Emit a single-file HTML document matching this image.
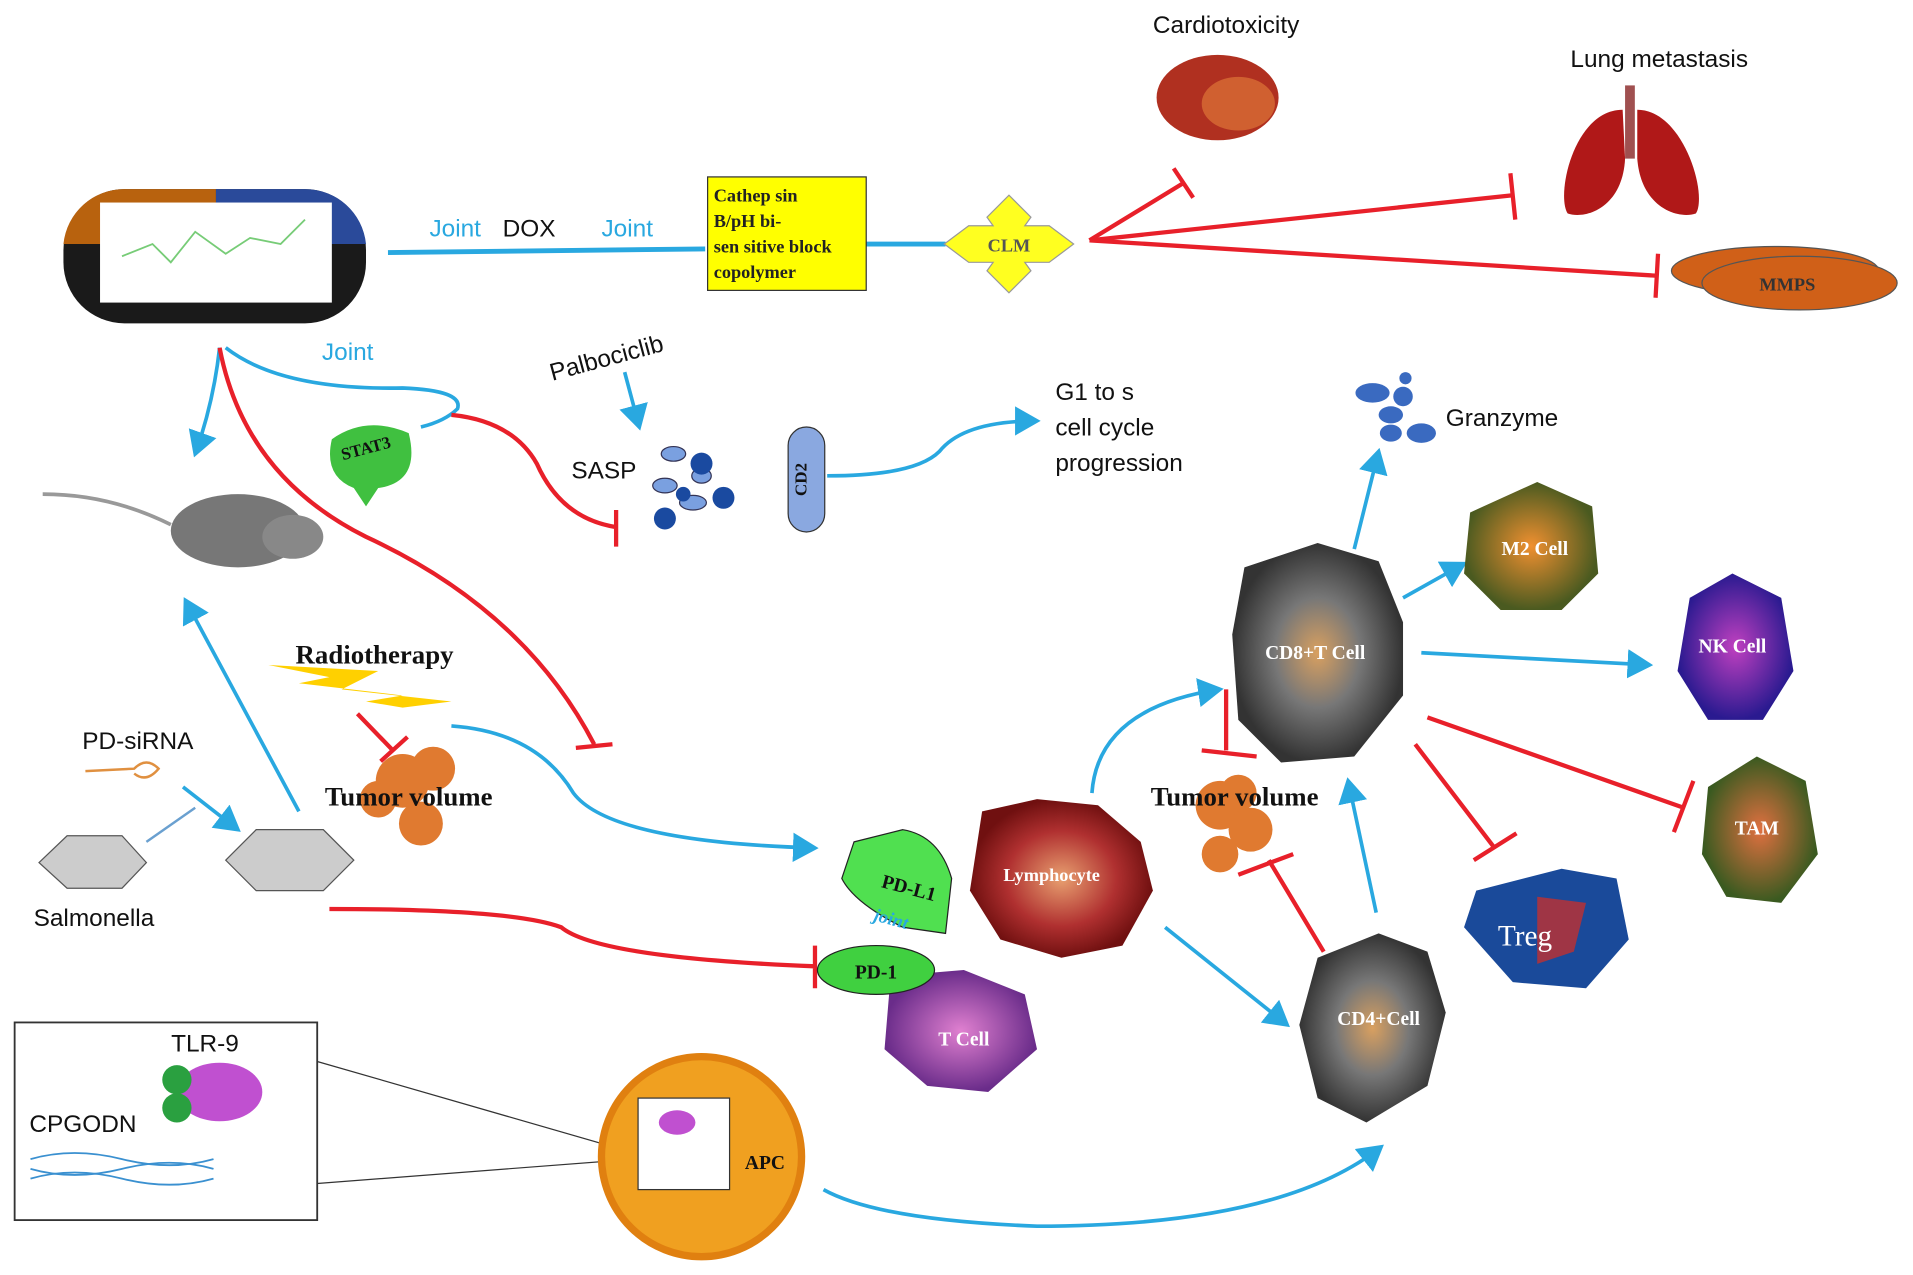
<!DOCTYPE html>
<html><head><meta charset="utf-8"><style>
html,body{margin:0;padding:0;background:#fff;}
svg{display:block;}
.s{font-family:"Liberation Sans",sans-serif;}
.r{font-family:"Liberation Serif",serif;font-weight:bold;}
</style></head><body>
<svg width="1913" height="1275" viewBox="0 0 1568 1045" preserveAspectRatio="none" xmlns="http://www.w3.org/2000/svg">
<defs>
<marker id="ab" markerWidth="8" markerHeight="8" refX="6" refY="4" orient="auto" markerUnits="strokeWidth"><path d="M0,0 L7,4 L0,8 z" fill="#29a8e0"/></marker>
<radialGradient id="gc" cx="50%" cy="50%" r="50%"><stop offset="0" stop-color="#d9a060"/><stop offset=".5" stop-color="#777"/><stop offset="1" stop-color="#333"/></radialGradient>
<radialGradient id="gl" cx="50%" cy="50%" r="50%"><stop offset="0" stop-color="#e8a070"/><stop offset=".6" stop-color="#b03030"/><stop offset="1" stop-color="#701010"/></radialGradient>
<radialGradient id="gt" cx="50%" cy="50%" r="50%"><stop offset="0" stop-color="#e080d0"/><stop offset="1" stop-color="#6a2c8a"/></radialGradient>
<radialGradient id="gm" cx="50%" cy="50%" r="50%"><stop offset="0" stop-color="#f09030"/><stop offset="1" stop-color="#4a5a20"/></radialGradient>
<radialGradient id="gn" cx="50%" cy="50%" r="50%"><stop offset="0" stop-color="#c040c0"/><stop offset="1" stop-color="#2a1a90"/></radialGradient>
<radialGradient id="gtam" cx="50%" cy="50%" r="50%"><stop offset="0" stop-color="#e07040"/><stop offset="1" stop-color="#3a5a20"/></radialGradient>
</defs>
<g fill="none" stroke-width="4">
<!-- blue lines -->
<path d="M318,207 L578,204" stroke="#29a8e0"/>
<path d="M710,200 L775,200" stroke="#29a8e0"/>
<path d="M180,285 Q175,330 160,372" stroke="#29a8e0" marker-end="url(#ab)" stroke-width="3"/>
<path d="M185,285 Q230,320 330,318 Q380,320 375,335 Q365,345 345,350" stroke="#29a8e0" stroke-width="3"/>
<path d="M512,305 L524,350" stroke="#29a8e0" stroke-width="3" marker-end="url(#ab)"/>
<path d="M678,390 Q750,390 770,370 Q790,345 850,345" stroke="#29a8e0" stroke-width="3" marker-end="url(#ab)"/>
<path d="M245,665 L152,492" stroke="#29a8e0" stroke-width="3" marker-end="url(#ab)"/>
<path d="M150,645 L195,680" stroke="#29a8e0" stroke-width="3" marker-end="url(#ab)"/>
<path d="M120,690 L160,662" stroke="#6aa0d0" stroke-width="2"/>
<path d="M370,595 Q440,600 470,650 Q500,690 668,695" stroke="#29a8e0" stroke-width="3" marker-end="url(#ab)"/>
<path d="M895,650 Q900,580 1000,565" stroke="#29a8e0" stroke-width="3" marker-end="url(#ab)"/>
<path d="M1110,450 L1130,370" stroke="#29a8e0" stroke-width="3" marker-end="url(#ab)"/>
<path d="M1150,490 L1200,462" stroke="#29a8e0" stroke-width="3" marker-end="url(#ab)"/>
<path d="M1165,535 L1352,545" stroke="#29a8e0" stroke-width="3" marker-end="url(#ab)"/>
<path d="M1128,748 L1105,640" stroke="#29a8e0" stroke-width="3" marker-end="url(#ab)"/>
<path d="M955,760 L1055,840" stroke="#29a8e0" stroke-width="3" marker-end="url(#ab)"/>
<path d="M675,975 Q720,1000 850,1005 Q1050,1005 1132,940" stroke="#29a8e0" stroke-width="3" marker-end="url(#ab)"/>
<!-- red -->
<g stroke="#e8202a" stroke-width="3.5">
<path d="M893,197 L970,150 M962,138 L978,162"/>
<path d="M893,197 L1240,160 M1238,142 L1242,180"/>
<path d="M893,197 L1358,226 M1359,208 L1357,244"/>
<path d="M370,340 Q420,345 440,380 Q460,425 505,432 M505,418 L505,448"/>
<path d="M180,285 Q200,390 300,440 Q430,500 487,610 M472,613 L502,610"/>
<path d="M293,585 L322,615 M312,624 L334,604"/>
<path d="M270,745 Q420,745 460,760 Q490,785 668,792 M668,775 L668,810"/>
<path d="M1005,565 L1005,615 M985,615 L1030,620"/>
<path d="M1085,780 L1040,705 M1015,717 L1060,700"/>
<path d="M1160,610 L1225,695 M1208,705 L1243,683"/>
<path d="M1170,588 L1380,662 M1372,682 L1388,640"/>
</g>
<!-- inset lines -->
<path d="M260,870 L520,945 M260,970 L520,950" stroke="#333" stroke-width="1"/>
</g>
<!-- capsule -->
<rect x="52" y="155" width="248" height="110" rx="50" fill="#1a1a1a"/>
<path d="M102,155 H177 V200 H52 A50,50 0 0 1 102,155z" fill="#b8620e"/>
<path d="M177,155 H250 A50,50 0 0 1 300,200 H177z" fill="#2a4a9a"/>
<rect x="82" y="166" width="190" height="82" fill="#fff"/>
<path d="M100,210 L125,200 L140,215 L160,190 L185,208 L205,195 L230,200 L250,180" stroke="#7c7" stroke-width="1.5" fill="none"/>
<!-- text top -->
<text x="352" y="194" class="s" font-size="20" fill="#29a8e0">Joint</text>
<text x="412" y="194" class="s" font-size="20" fill="#111">DOX</text>
<text x="493" y="194" class="s" font-size="20" fill="#29a8e0">Joint</text>
<rect x="580" y="145" width="130" height="93" fill="#ffff00" stroke="#333"/>
<g class="r" font-size="15" fill="#222"><text x="585" y="165">Cathep sin</text><text x="585" y="186">B/pH bi-</text><text x="585" y="207">sen sitive block</text><text x="585" y="228">copolymer</text></g>
<path d="M827,160 L845,178 L840,185 L860,185 L880,200 L860,215 L840,215 L845,222 L827,240 L809,222 L814,215 L794,215 L774,200 L794,185 L814,185 L809,178z" fill="#ffff20" stroke="#999"/>
<text x="827" y="206" class="r" font-size="15" text-anchor="middle" fill="#555">CLM</text>
<text x="1005" y="27" class="s" font-size="20" text-anchor="middle" fill="#111">Cardiotoxicity</text>
<ellipse cx="998" cy="80" rx="50" ry="35" fill="#b03020"/><ellipse cx="1015" cy="85" rx="30" ry="22" fill="#d06030"/>
<text x="1360" y="55" class="s" font-size="20" text-anchor="middle" fill="#111">Lung metastasis</text>
<path d="M1330,90 C1290,90 1275,160 1285,175 C1300,180 1330,170 1332,130z" fill="#b01818"/>
<path d="M1342,90 C1380,90 1400,160 1390,175 C1375,180 1345,170 1342,130z" fill="#b01818"/>
<rect x="1332" y="70" width="8" height="60" fill="#a05050"/>
<ellipse cx="1455" cy="222" rx="85" ry="20" fill="#d06018" stroke="#555"/>
<ellipse cx="1475" cy="232" rx="80" ry="22" fill="#d06018" stroke="#555"/>
<text x="1465" y="238" class="r" font-size="15" text-anchor="middle" fill="#333">MMPS</text>
<!-- middle -->
<text x="285" y="295" class="s" font-size="20" text-anchor="middle" fill="#29a8e0">Joint</text>
<text x="497" y="300" class="s" font-size="20" text-anchor="middle" fill="#111" transform="rotate(-15 497 293)">Palbociclib</text>
<path d="M272,360 Q300,340 335,355 Q345,395 310,400 L300,415 L290,400 Q265,390 272,360z" fill="#40c040"/>
<text x="300" y="372" class="r" font-size="14" text-anchor="middle" fill="#111" transform="rotate(-15 300 368)">STAT3</text>
<text x="495" y="392" class="s" font-size="20" text-anchor="middle" fill="#111">SASP</text>
<g fill="#7aa0e0" stroke="#335" stroke-width="1"><ellipse cx="552" cy="372" rx="10" ry="6"/><ellipse cx="545" cy="398" rx="10" ry="6"/><ellipse cx="568" cy="412" rx="11" ry="6"/><ellipse cx="575" cy="390" rx="8" ry="6"/></g>
<g fill="#1a4aa0"><circle cx="575" cy="380" r="9"/><circle cx="593" cy="408" r="9"/><circle cx="545" cy="425" r="9"/><circle cx="560" cy="405" r="6"/></g>
<rect x="646" y="350" width="30" height="86" rx="15" fill="#8aa8e0" stroke="#333"/>
<text x="661" y="393" class="r" font-size="14" text-anchor="middle" fill="#111" transform="rotate(-90 661 393)">CD2</text>
<g class="s" font-size="20" fill="#111"><text x="865" y="328">G1 to s</text><text x="865" y="357">cell cycle</text><text x="865" y="386">progression</text></g>
<g fill="#3a6ac0"><ellipse cx="1125" cy="322" rx="14" ry="8"/><ellipse cx="1150" cy="325" rx="8" ry="8"/><ellipse cx="1140" cy="340" rx="10" ry="7"/><ellipse cx="1165" cy="355" rx="12" ry="8"/><ellipse cx="1140" cy="355" rx="9" ry="7"/><ellipse cx="1152" cy="310" rx="5" ry="5"/></g>
<text x="1185" y="349" class="s" font-size="20" fill="#111">Granzyme</text>
<!-- rat -->
<ellipse cx="195" cy="435" rx="55" ry="30" fill="#777"/><ellipse cx="240" cy="440" rx="25" ry="18" fill="#888"/>
<path d="M140,430 Q90,405 35,405" stroke="#999" stroke-width="3" fill="none"/>
<!-- radiotherapy -->
<text x="307" y="544" class="r" font-size="22" text-anchor="middle" fill="#111">Radiotherapy</text>
<path d="M220,545 L310,550 L280,565 L370,575 L330,580 L390,590 L300,575 L330,570 L245,560 L270,555z" fill="#ffd000"/>
<g fill="#e07a30"><circle cx="330" cy="640" r="22"/><circle cx="355" cy="630" r="18"/><circle cx="345" cy="675" r="18"/><circle cx="310" cy="655" r="15"/></g>
<text x="335" y="660" class="r" font-size="22" text-anchor="middle" fill="#111">Tumor volume</text>
<text x="113" y="614" class="s" font-size="20" text-anchor="middle" fill="#111">PD-siRNA</text>
<path d="M70,632 L110,630 Q120,620 130,630 Q120,642 110,634" stroke="#e09040" stroke-width="2" fill="none"/>
<path d="M32,707 L55,685 L100,685 L120,707 L100,728 L55,728z" fill="#ccc" stroke="#555"/>
<path d="M185,705 L210,680 L265,680 L290,705 L265,730 L210,730z" fill="#ccc" stroke="#555"/>
<text x="77" y="759" class="s" font-size="20" text-anchor="middle" fill="#111">Salmonella</text>
<!-- cells -->
<path d="M805,665 L850,655 L900,660 L935,690 L945,730 L920,775 L870,785 L820,770 L795,730z" fill="url(#gl)"/>
<text x="862" y="722" class="r" font-size="15" text-anchor="middle" fill="#fff">Lymphocyte</text>
<path d="M700,690 L740,680 Q770,685 780,720 L775,765 L740,760 Q700,740 690,720z" fill="#50e050" stroke="#222"/>
<text x="745" y="733" class="r" font-size="16" text-anchor="middle" fill="#111" transform="rotate(15 745 728)">PD-L1</text>
<text x="730" y="758" class="r" font-size="15" font-style="italic" text-anchor="middle" fill="#29a8e0" transform="rotate(15 730 755)">joint</text>
<path d="M730,800 L790,795 L840,815 L850,860 L810,895 L760,890 L725,860z" fill="url(#gt)"/>
<ellipse cx="718" cy="795" rx="48" ry="20" fill="#40d040" stroke="#222"/>
<text x="718" y="802" class="r" font-size="16" text-anchor="middle" fill="#111">PD-1</text>
<text x="790" y="857" class="r" font-size="16" text-anchor="middle" fill="#fff">T Cell</text>
<path d="M1020,465 L1080,445 L1130,460 L1150,510 L1150,570 L1110,620 L1050,625 L1015,590 L1010,520z" fill="url(#gc)"/>
<text x="1078" y="540" class="r" font-size="16" text-anchor="middle" fill="#fff">CD8+T Cell</text>
<path d="M1205,420 L1260,395 L1305,415 L1310,470 L1280,500 L1230,500 L1200,470z" fill="url(#gm)"/>
<text x="1258" y="455" class="r" font-size="16" text-anchor="middle" fill="#fff">M2 Cell</text>
<path d="M1385,490 L1420,470 L1460,490 L1470,550 L1445,590 L1400,590 L1375,550z" fill="url(#gn)"/>
<text x="1420" y="535" class="r" font-size="16" text-anchor="middle" fill="#fff">NK Cell</text>
<path d="M1400,645 L1440,620 L1480,640 L1490,700 L1460,740 L1415,735 L1395,700z" fill="url(#gtam)"/>
<text x="1440" y="684" class="r" font-size="16" text-anchor="middle" fill="#fff">TAM</text>
<path d="M1210,730 L1280,712 L1325,720 L1335,770 L1300,810 L1240,805 L1200,760z" fill="#1a4a9a"/>
<path d="M1260,735 L1300,740 L1290,780 L1260,790z" fill="#c03030" opacity=".8"/>
<text x="1250" y="775" font-family="Liberation Serif,serif" font-size="24" text-anchor="middle" fill="#fff">Treg</text>
<path d="M1080,785 L1130,765 L1170,780 L1185,830 L1170,890 L1120,920 L1080,900 L1065,840z" fill="url(#gc)"/>
<text x="1130" y="840" class="r" font-size="16" text-anchor="middle" fill="#fff">CD4+Cell</text>
<g fill="#e07a30"><circle cx="1000" cy="660" r="20"/><circle cx="1025" cy="680" r="18"/><circle cx="1000" cy="700" r="15"/><circle cx="1015" cy="650" r="15"/></g>
<text x="1012" y="660" class="r" font-size="22" text-anchor="middle" fill="#111">Tumor volume</text>
<!-- inset -->
<rect x="12" y="838" width="248" height="162" fill="#fff" stroke="#333" stroke-width="1.5"/>
<text x="168" y="862" class="s" font-size="20" text-anchor="middle" fill="#111">TLR-9</text>
<text x="68" y="928" class="s" font-size="20" text-anchor="middle" fill="#111">CPGODN</text>
<ellipse cx="180" cy="895" rx="35" ry="24" fill="#c050d0"/>
<circle cx="145" cy="885" r="12" fill="#2aa040"/><circle cx="145" cy="908" r="12" fill="#2aa040"/>
<g stroke="#3a90d0" stroke-width="1.5" fill="none"><path d="M25,950 Q60,940 100,950 T175,950"/><path d="M25,958 Q60,968 100,958 T175,958"/><path d="M25,966 Q60,956 100,966 T175,966"/></g>
<circle cx="575" cy="948" r="82" fill="#f0a020" stroke="#e08010" stroke-width="6"/>
<rect x="523" y="900" width="75" height="75" fill="#fff" stroke="#333"/>
<ellipse cx="555" cy="920" rx="15" ry="10" fill="#c050d0"/>
<text x="627" y="958" class="r" font-size="16" text-anchor="middle" fill="#111">APC</text>
</svg>
</body></html>
